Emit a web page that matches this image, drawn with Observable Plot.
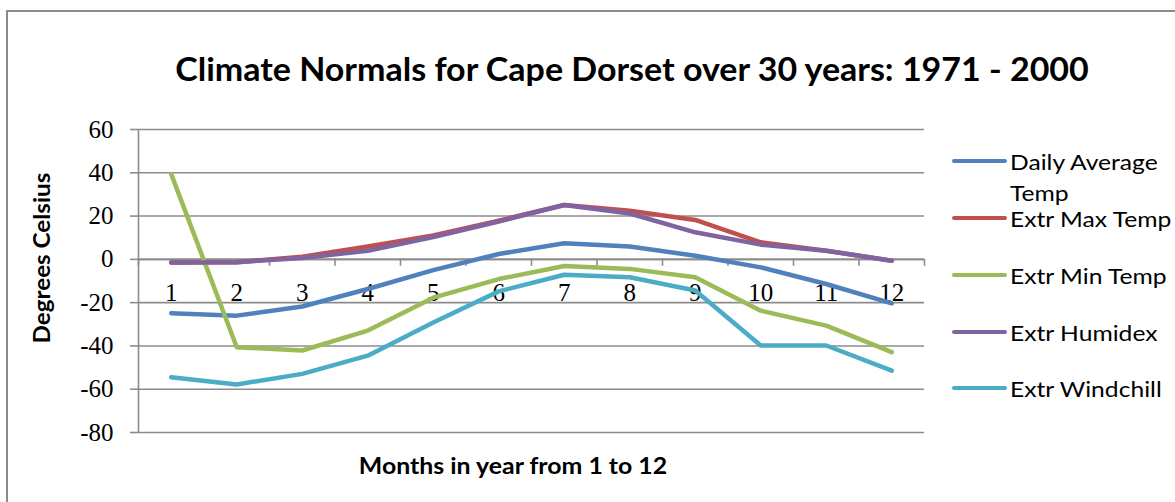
<!DOCTYPE html>
<html>
<head>
<meta charset="utf-8">
<script src="https://cdn.jsdelivr.net/npm/d3@7"></script>
<script src="https://cdn.jsdelivr.net/npm/@observablehq/plot@0.6"></script>
<style>
  html, body { margin: 0; padding: 0; background: #fff; }
  #wrap { position: relative; width: 1175px; height: 502px; overflow: hidden; background: #fff; }
  #border { position: absolute; left: 6px; top: 10px; width: 1300px; height: 600px;
            border-left: 2px solid #8c8c8c; border-top: 2px solid #8c8c8c; }
  #chart { position: absolute; left: 0; top: 0; }
  #chart text { font-family: 'Liberation Serif', serif; }
  .title { position: absolute; left: 632px; top: 68px; transform: translate(-50%, -50%) scaleX(1.03);
           font-family: Lato, sans-serif; font-weight: 700; font-size: 33px; color: #000; white-space: nowrap; }
  .ytitle { position: absolute; left: 41px; top: 258px; transform: translate(-50%, -50%) rotate(-90deg) scaleX(1.1);
            font-family: Lato, sans-serif; font-weight: 700; font-size: 22px; white-space: nowrap; }
  .xtitle { position: absolute; left: 513px; top: 465px; transform: translate(-50%, -50%) scaleX(1.13);
            font-family: Lato, sans-serif; font-weight: 700; font-size: 22px; white-space: nowrap; }
  .leg { position: absolute; left: 952px; font-family: Lato, sans-serif; font-size: 22px; color: #000; }
  .leg .sw { position: absolute; left: 0; width: 55px; height: 4px; border-radius: 2px; top: -2px; }
  .leg .lbl { position: absolute; left: 58px; top: -15px; line-height: 31px; white-space: nowrap;
              transform: scaleX(1.12); transform-origin: 0 50%; }
</style>
</head>
<body>
<div id="wrap">
  <div id="border"></div>
  <div id="chart"></div>
  <div class="title">Climate Normals for Cape Dorset over 30 years: 1971 - 2000</div>
  <div class="ytitle">Degrees Celsius</div>
  <div class="xtitle">Months in year from 1 to 12</div>
  <div id="legend"></div>
</div>
<script>
const months = [1, 2, 3, 4, 5, 6, 7, 8, 9, 10, 11, 12];
const dailyAverageTemp = [-24.9, -26.0, -21.8, -13.7, -5.0, 2.5, 7.4, 5.9, 1.7, -3.7, -11.4, -20.3];
const extrMaxTemp      = [-1.4, -1.3, 1.2, 5.9, 11.0, 17.9, 25.1, 22.5, 18.2, 7.9, 4.0, -0.6];
const extrMinTemp      = [39.4, -40.6, -42.1, -32.9, -17.7, -9.1, -3.1, -4.4, -8.3, -23.7, -30.6, -42.9];
const extrHumidex      = [-1.4, -1.3, 0.6, 4.0, 10.3, 17.5, 25.1, 21.2, 12.5, 6.8, 4.0, -0.6];
const extrWindchill    = [-54.5, -57.8, -52.9, -44.5, -29.2, -14.8, -7.1, -8.3, -14.4, -39.8, -39.8, -51.4];
const seriesNames = ["Daily Average Temp", "Extr Max Temp", "Extr Min Temp", "Extr Humidex", "Extr Windchill"];
const seriesColors = ["#4F81BD", "#C0504D", "#9BBB59", "#8064A2", "#4BACC6"];
const yTicks = [-80, -60, -40, -20, 0, 20, 40, 60];

const seriesValues = [dailyAverageTemp, extrMaxTemp, extrMinTemp, extrHumidex, extrWindchill];
const boundaries = [0, ...months].map(m => m + 0.5);
const gray = "#8c8c8c";
const serif = "'Liberation Serif', serif";

const lineMarks = seriesValues.map((vals, i) =>
  Plot.line(months.map((m, j) => ({month: m, value: vals[j]})), {
    x: "month", y: "value", stroke: seriesColors[i], strokeWidth: 4.5,
    strokeLinecap: "round", strokeLinejoin: "round"
  })
);

const chart = Plot.plot({
  width: 1175,
  height: 502,
  marginLeft: 138,
  marginRight: 251,
  marginTop: 129,
  marginBottom: 70,
  x: {type: "linear", domain: [0.5, 12.5], axis: null},
  y: {domain: [-80, 60], axis: null},
  style: {background: "transparent", fontFamily: serif, fontSize: "25px"},
  marks: [
    Plot.gridY(yTicks, {stroke: gray, strokeOpacity: 1, strokeWidth: 1.6}),
    Plot.axisY(yTicks, {tickSize: 8, stroke: gray, strokeWidth: 1.6, tickFormat: () => "", label: null}),
    Plot.text(yTicks, {x: boundaries[0], y: d => d, dx: -25, textAnchor: "end", text: d => String(d),
      fontFamily: serif, fontSize: 25, fill: "#000"}),
    Plot.ruleX([boundaries[0]], {stroke: gray, strokeWidth: 1.6}),
    Plot.ruleY([0], {stroke: gray, strokeWidth: 1.6}),
    Plot.ruleX(boundaries, {x: d => d, y1: 0, y2: -3.2, stroke: gray, strokeWidth: 1.6}),
    Plot.text(months, {x: d => d, y: 0, dy: 34, text: d => String(d), fontFamily: serif, fontSize: 25, fill: "#000"}),
    ...lineMarks
  ]
});
document.getElementById("chart").appendChild(chart);

const legendY = [161, 218, 275, 332, 388];
const legend = document.getElementById("legend");
seriesNames.forEach((name, i) => {
  const item = document.createElement("div");
  item.className = "leg";
  item.style.top = legendY[i] + "px";
  const sw = document.createElement("div");
  sw.className = "sw";
  sw.style.background = seriesColors[i];
  const lbl = document.createElement("div");
  lbl.className = "lbl";
  lbl.innerHTML = name === "Daily Average Temp" ? "Daily Average<br>Temp" : name;
  item.appendChild(sw);
  item.appendChild(lbl);
  legend.appendChild(item);
});
</script>
</body>
</html>
